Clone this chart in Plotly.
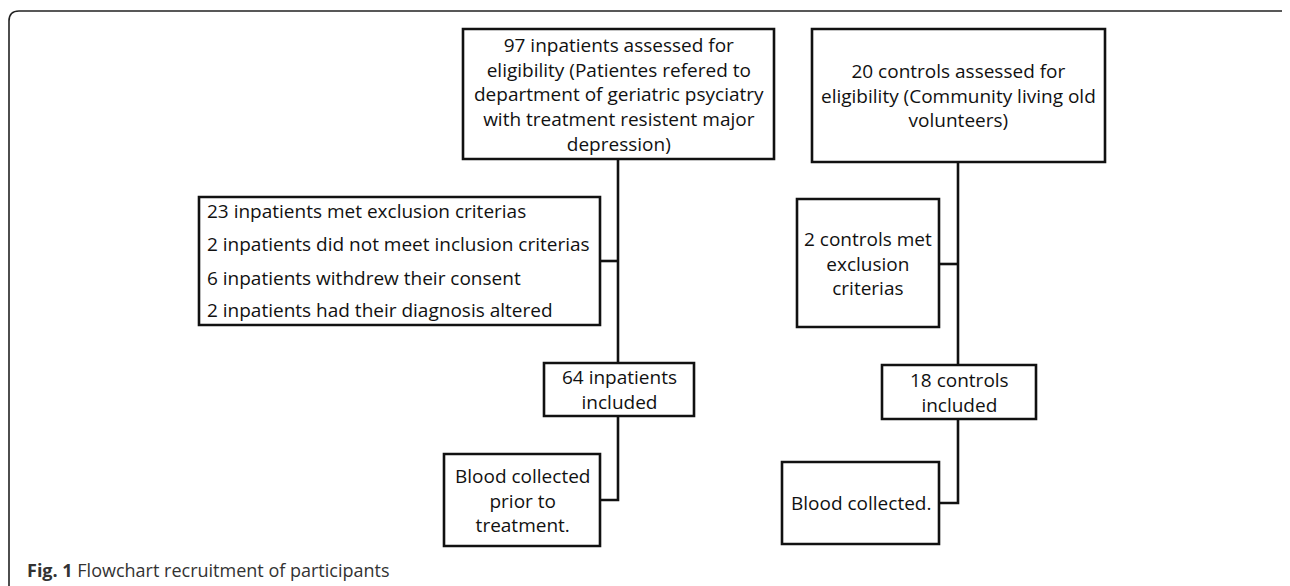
import plotly.graph_objects as go

# ---- content (text of the flowchart) ----
inpatient_steps = [
    "97 inpatients assessed for<br>eligibility (Patientes refered to<br>department of geriatric psyciatry<br>with treatment resistent major<br>depression)",
    "64 inpatients<br>included",
    "Blood collected<br>prior to<br>treatment.",
]
inpatient_exclusions = [
    "23 inpatients met exclusion criterias",
    "2 inpatients did not meet inclusion criterias",
    "6 inpatients withdrew their consent",
    "2 inpatients had their diagnosis altered",
]
control_steps = [
    "20 controls assessed for<br>eligibility (Community living old<br>volunteers)",
    "18 controls<br>included",
    "Blood collected.",
]
control_exclusions = ["2 controls met<br>exclusion<br>criterias"]
caption_label = "Fig. 1"
caption_text = "Flowchart recruitment of participants"

# ---- layout geometry (page pixels, y downward) ----
W, H = 1290, 586
OFF = 8  # page body margin of the html page
FONT = "Open Sans"
FS = 19
INK = "#111111"
LW = 2.6

# box rectangles: (x0, y0, x1, y1)
in_boxes = [(463, 29, 774, 159), (544, 363, 694, 416), (444, 454, 600, 546)]
in_excl_box = (199, 197, 600, 325)
in_excl_rows = [211, 244, 278, 310]
in_spine_x = 618
in_excl_y = 261
in_blood_y = 500

ct_boxes = [(812, 29, 1105, 162), (882, 365, 1036, 419), (782, 462, 939, 544)]
ct_excl_box = (797, 199, 939, 327)
ct_spine_x = 958
ct_excl_y = 264
ct_blood_y = 503

fig = go.Figure()
shapes = []
annotations = []


def rect(b):
    shapes.append(dict(type="rect", xref="x", yref="y", x0=b[0], y0=b[1], x1=b[2], y1=b[3],
                       line=dict(color=INK, width=LW), fillcolor="white", layer="above"))


def line(x0, y0, x1, y1):
    shapes.append(dict(type="line", xref="x", yref="y", x0=x0, y0=y0, x1=x1, y1=y1,
                       line=dict(color=INK, width=LW), layer="below"))


def centered(b, text):
    annotations.append(dict(x=(b[0] + b[2]) / 2, y=(b[1] + b[3]) / 2, xref="x", yref="y",
                            text=text, showarrow=False, align="center",
                            xanchor="center", yanchor="middle",
                            font=dict(family=FONT, size=FS, color=INK)))


# outer frame (top edge with rounded corners, left edge down)
shapes.append(dict(type="path", xref="x", yref="y",
                   path="M 9,600 L 9,21 Q 9,11 19,11 L 1281,11 Q 1288,11 1289,16",
                   line=dict(color="#222222", width=1.6), layer="below"))

# connectors - inpatients
line(in_spine_x, in_boxes[0][3], in_spine_x, in_boxes[1][1])
line(in_excl_box[2], in_excl_y, in_spine_x, in_excl_y)
shapes.append(dict(type="path", xref="x", yref="y",
                   path=f"M {in_spine_x},{in_boxes[1][3]} L {in_spine_x},{in_blood_y} L {in_boxes[2][2]},{in_blood_y}",
                   line=dict(color=INK, width=LW), layer="below"))
# connectors - controls
line(ct_spine_x, ct_boxes[0][3], ct_spine_x, ct_boxes[1][1])
line(ct_excl_box[2], ct_excl_y, ct_spine_x, ct_excl_y)
shapes.append(dict(type="path", xref="x", yref="y",
                   path=f"M {ct_spine_x},{ct_boxes[1][3]} L {ct_spine_x},{ct_blood_y} L {ct_boxes[2][2]},{ct_blood_y}",
                   line=dict(color=INK, width=LW), layer="below"))

for b, t in zip(in_boxes, inpatient_steps):
    rect(b)
    centered(b, t)
for b, t in zip(ct_boxes, control_steps):
    rect(b)
    centered(b, t)

rect(in_excl_box)
for yy, t in zip(in_excl_rows, inpatient_exclusions):
    annotations.append(dict(x=in_excl_box[0] + 6, y=yy, xref="x", yref="y", text=t,
                            showarrow=False, xanchor="left", yanchor="middle", align="left",
                            font=dict(family=FONT, size=FS, color=INK)))
rect(ct_excl_box)
centered(ct_excl_box, control_exclusions[0])

# caption
annotations.append(dict(x=25, y=570, xref="x", yref="y",
                        text=f"<b>{caption_label}</b> {caption_text}",
                        showarrow=False, xanchor="left", yanchor="middle",
                        font=dict(family="Open Sans", size=18, color="#333333")))

fig.add_trace(go.Scatter(x=[OFF, W], y=[OFF, H], mode="markers", marker=dict(opacity=0),
                         hoverinfo="skip", showlegend=False))

fig.update_layout(
    width=W, height=H, margin=dict(l=0, r=0, t=0, b=0),
    paper_bgcolor="white", plot_bgcolor="white",
    shapes=shapes, annotations=annotations,
    xaxis=dict(range=[OFF, W + OFF], visible=False, fixedrange=True),
    yaxis=dict(range=[H + OFF, OFF], visible=False, fixedrange=True),
    showlegend=False,
)

fig.write_html("out.html")
